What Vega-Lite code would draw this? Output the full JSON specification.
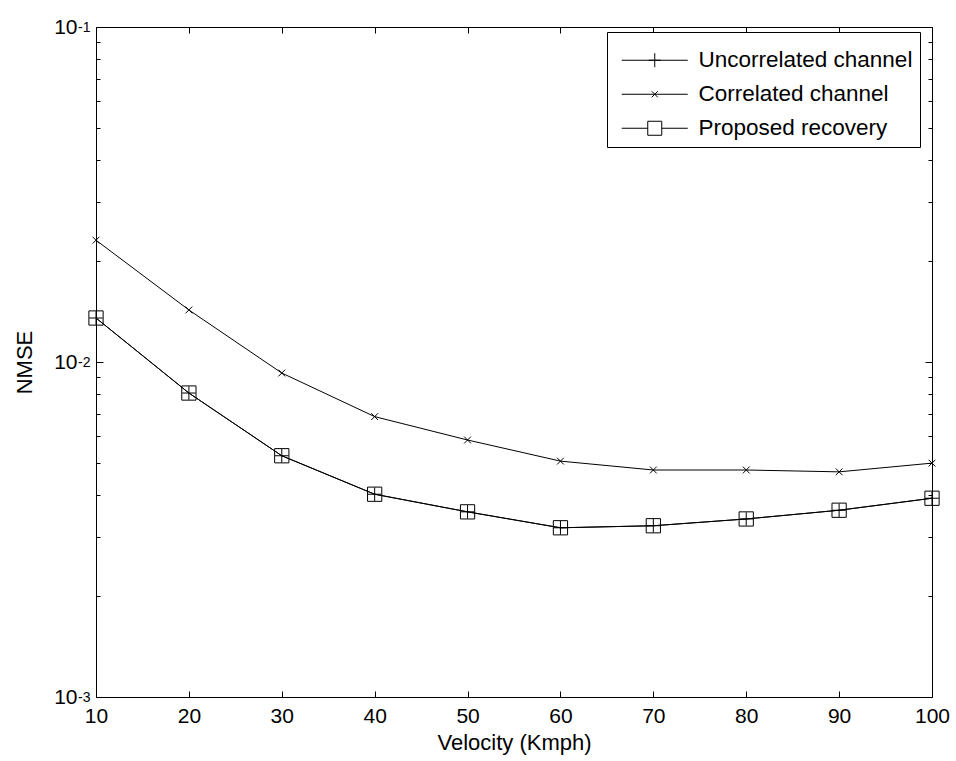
{
  "$schema": "https://vega.github.io/schema/vega-lite/v6.json",
  "autosize": {"type": "none"},
  "padding": {"left": 96, "top": 27, "right": 24, "bottom": 64},
  "width": 836,
  "height": 670,
  "background": "white",
  "config": {
    "view": {"stroke": "black", "strokeWidth": 1},
    "font": "Liberation Sans",
    "axis": {"domain": false, "grid": false, "tickColor": "black", "labelColor": "black", "titleColor": "black", "labelFont": "Liberation Sans", "titleFont": "Liberation Sans", "labelFontSize": 21, "titleFontSize": 22, "titleFontWeight": "normal"}
  },
  "data": {"values": [
    {"v": 10, "nmse": 0.01353, "series": "Uncorrelated channel"},
    {"v": 20, "nmse": 0.00808, "series": "Uncorrelated channel"},
    {"v": 30, "nmse": 0.00525, "series": "Uncorrelated channel"},
    {"v": 40, "nmse": 0.00403, "series": "Uncorrelated channel"},
    {"v": 50, "nmse": 0.00357, "series": "Uncorrelated channel"},
    {"v": 60, "nmse": 0.00320, "series": "Uncorrelated channel"},
    {"v": 70, "nmse": 0.003245, "series": "Uncorrelated channel"},
    {"v": 80, "nmse": 0.00340, "series": "Uncorrelated channel"},
    {"v": 90, "nmse": 0.00361, "series": "Uncorrelated channel"},
    {"v": 100, "nmse": 0.00392, "series": "Uncorrelated channel"},
    {"v": 10, "nmse": 0.0231, "series": "Correlated channel"},
    {"v": 20, "nmse": 0.0143, "series": "Correlated channel"},
    {"v": 30, "nmse": 0.00927, "series": "Correlated channel"},
    {"v": 40, "nmse": 0.00687, "series": "Correlated channel"},
    {"v": 50, "nmse": 0.00585, "series": "Correlated channel"},
    {"v": 60, "nmse": 0.00506, "series": "Correlated channel"},
    {"v": 70, "nmse": 0.00476, "series": "Correlated channel"},
    {"v": 80, "nmse": 0.00476, "series": "Correlated channel"},
    {"v": 90, "nmse": 0.0047, "series": "Correlated channel"},
    {"v": 100, "nmse": 0.00499, "series": "Correlated channel"},
    {"v": 10, "nmse": 0.01353, "series": "Proposed recovery"},
    {"v": 20, "nmse": 0.00808, "series": "Proposed recovery"},
    {"v": 30, "nmse": 0.00525, "series": "Proposed recovery"},
    {"v": 40, "nmse": 0.00403, "series": "Proposed recovery"},
    {"v": 50, "nmse": 0.00357, "series": "Proposed recovery"},
    {"v": 60, "nmse": 0.00320, "series": "Proposed recovery"},
    {"v": 70, "nmse": 0.003245, "series": "Proposed recovery"},
    {"v": 80, "nmse": 0.00340, "series": "Proposed recovery"},
    {"v": 90, "nmse": 0.00361, "series": "Proposed recovery"},
    {"v": 100, "nmse": 0.00392, "series": "Proposed recovery"}
  ]},
  "resolve": {"scale": {"shape": "independent"}, "legend": {"shape": "independent"}},
  "layer": [
    {
      "mark": {"type": "line", "color": "black", "strokeWidth": 1},
      "encoding": {
        "x": {"field": "v", "type": "quantitative", "scale": {"domain": [10, 100], "nice": false, "zero": false},
          "axis": {"orient": "bottom", "values": [10, 20, 30, 40, 50, 60, 70, 80, 90, 100], "tickSize": -6, "labelPadding": 14, "title": "Velocity (Kmph)", "titlePadding": 6, "labelFlush": false}},
        "y": {"field": "nmse", "type": "quantitative", "scale": {"type": "log", "domain": [0.001, 0.1], "nice": false},
          "axis": {"orient": "left", "values": [0.001, 0.01, 0.1], "tickSize": -7, "labelPadding": 26, "labelExpr": "'10'", "title": "NMSE", "titlePadding": 17, "labelFlush": false}},
        "detail": {"field": "series", "type": "nominal"}
      }
    },
    {
      "mark": {"type": "point", "color": "black", "filled": false, "size": 225, "strokeWidth": 1, "opacity": 1},
      "encoding": {
        "x": {"field": "v", "type": "quantitative", "axis": {"orient": "top", "values": [10, 20, 30, 40, 50, 60, 70, 80, 90, 100], "tickSize": -6, "labels": false, "title": null}},
        "y": {"field": "nmse", "type": "quantitative", "axis": {"orient": "right", "values": [0.001, 0.01, 0.1], "tickSize": -7, "labels": false, "title": null}},
        "shape": {"field": "series", "type": "nominal", "legend": null,
          "scale": {"domain": ["Uncorrelated channel", "Correlated channel", "Proposed recovery"],
            "range": ["M0,-0.9V0.9M-0.9,0H0.9", "M-0.45,-0.45L0.45,0.45M-0.45,0.45L0.45,-0.45", "M-0.95,-0.95H0.95V0.95H-0.95Z"]}}
      }
    },
    {
      "mark": {"type": "point", "color": "black", "filled": false, "size": 100, "strokeWidth": 1, "opacity": 0},
      "encoding": {
        "x": {"field": "v", "type": "quantitative", "axis": null},
        "y": {"field": "nmse", "type": "quantitative", "axis": {"orient": "left", "values": [0.002, 0.003, 0.004, 0.005, 0.006, 0.007, 0.008, 0.009, 0.02, 0.03, 0.04, 0.05, 0.06, 0.07, 0.08, 0.09], "tickSize": -4, "labels": false, "title": null}},
        "shape": {"field": "series", "type": "nominal",
          "scale": {"domain": ["Uncorrelated channel", "Correlated channel", "Proposed recovery"],
            "range": ["M-0.7,0H12.5M5.9,-1.4V1.4M4.7,0H7.1", "M-0.7,0H12.5M5.3,-0.6L6.5,0.6M5.3,0.6L6.5,-0.6", "M-0.7,0H4.5M7.3,0H12.5M4.5,-1.4H7.3V1.4H4.5Z"]},
          "legend": {"title": " ", "titleFontSize": 1, "titlePadding": 9, "orient": "none", "legendX": 511, "legendY": 5, "padding": 7, "strokeColor": "black", "fillColor": "white", "labelFontSize": 22.5, "labelFont": "Liberation Sans", "labelColor": "black", "labelOffset": 62, "rowPadding": 11, "symbolSize": 100, "symbolOpacity": 1, "symbolStrokeColor": "black", "symbolStrokeWidth": 1, "symbolFillColor": "transparent", "labelLimit": 400}}
      }
    },
    {
      "mark": {"type": "point", "color": "black", "size": 1, "opacity": 0},
      "encoding": {
        "x": {"field": "v", "type": "quantitative", "axis": null},
        "y": {"field": "nmse", "type": "quantitative", "axis": {"orient": "right", "values": [0.002, 0.003, 0.004, 0.005, 0.006, 0.007, 0.008, 0.009, 0.02, 0.03, 0.04, 0.05, 0.06, 0.07, 0.08, 0.09], "tickSize": -4, "labels": false, "title": null}}
      }
    },
    {
      "mark": {"type": "point", "color": "black", "size": 1, "opacity": 0},
      "encoding": {
        "x": {"field": "v", "type": "quantitative", "axis": null},
        "y": {"field": "nmse", "type": "quantitative", "axis": {"orient": "left", "values": [0.001, 0.01, 0.1], "ticks": false, "labelPadding": 6, "labelFontSize": 14, "labelDy": -9, "labelExpr": "'-' + (round(-log(datum.value)/LN10))", "title": null, "labelFlush": false}}
      }
    }
  ]
}
